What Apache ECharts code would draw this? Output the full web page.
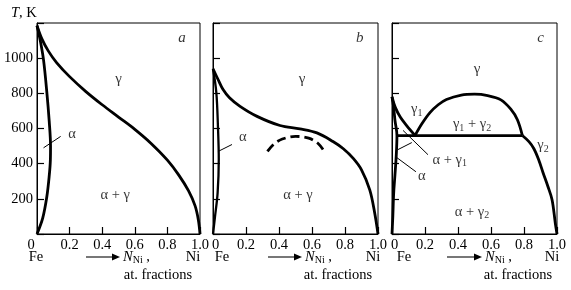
<!DOCTYPE html>
<html><head><meta charset="utf-8">
<script src="https://cdn.jsdelivr.net/npm/echarts@6/dist/echarts.min.js"></script>
<style>html,body{margin:0;padding:0;background:#fff}#c{width:571px;height:290px}</style>
</head><body><div id="c"></div>
<script>
// ---- data (x = N_Ni at. fraction, y = T in K) ----
const xTickLabels = ['0','0.2','0.4','0.6','0.8','1.0'];
const yTickLabels = ['200','400','600','800','1000'];

// panel a
const aGamma = [[0,1185],[0.03,1110],[0.07,1040],[0.12,975],[0.2,895],[0.3,810],[0.4,735],[0.5,665],[0.6,595],[0.7,515],[0.8,420],[0.87,335],[0.93,245],[0.97,160],[0.99,80],[1.0,0]];
const aAlpha = [[0,1185],[0.02,1100],[0.04,990],[0.06,810],[0.075,640],[0.083,500],[0.082,420],[0.075,330],[0.06,210],[0.035,90],[0,0]];
const aLeader = [[0.04,490],[0.145,555]];

// panel b
const bGamma = [[0,940],[0.03,880],[0.06,823],[0.1,775],[0.164,726],[0.267,669],[0.406,617],[0.527,598],[0.63,575],[0.727,526],[0.79,485],[0.85,430],[0.9,365],[0.95,251],[0.98,120],[1.0,0]];
const bAlpha = [[0,940],[0.02,806],[0.03,611],[0.035,423],[0.028,234],[0.012,97],[0,0]];
const bSpinodal = [[0.33,470],[0.37,512],[0.42,540],[0.5,555],[0.58,545],[0.64,512],[0.68,462]];
const bLeader = [[0.03,469],[0.115,509]];

// panel c
const cGamma1 = [[0,780],[0.02,720],[0.05,665],[0.09,615],[0.14,560]];
const cAlpha = [[0,780],[0.01,720],[0.018,646],[0.03,560],[0.026,450],[0.018,337],[0.01,230],[0.005,100],[0,0]];
const cTie = [[0.035,560],[0.79,560]];
const cDome = [[0.14,560],[0.18,625],[0.23,690],[0.28,735],[0.33,765],[0.42,790],[0.5,795],[0.58,787],[0.66,763],[0.72,710],[0.76,650],[0.79,560]];
const cGamma2 = [[0.79,560],[0.83,525],[0.86,485],[0.89,420],[0.915,350],[0.945,270],[0.97,195],[0.99,60],[1.0,0]];
const cLeader1 = [[0.067,589],[0.218,451]];
const cLeader2 = [[0.036,480],[0.12,520]];
const cLeader3 = [[0.03,434],[0.145,354]];

// region labels (x, T, text)
const aLabels = [[0.5,880,'{g|γ}'],[0.48,223,'α + γ'],[0.215,570,'α'],[0.89,1114,'{i|a}']];
const bLabels = [[0.54,880,'{g|γ}'],[0.515,223,'α + γ'],[0.18,549,'α'],[0.89,1114,'{i|b}']];
const cLabels = [[0.515,937,'{g|γ}'],[0.485,623,'γ{s|1} + γ{s|2}'],[0.15,708,'γ{s|1}'],[0.915,503,'γ{s|2}'],[0.35,420,'α + γ{s|1}'],[0.18,326,'α'],[0.485,126,'α + γ{s|2}'],[0.9,1114,'{i|c}']];

// ---- layout ----
const FONT = 'Liberation Serif';
const FS = 14.5;
const panels = [
  {left:37, width:163, zeroPad:[0,12,0,0], yLabels:true},
  {left:213, width:165, zeroPad:[0,0,0,5], yLabels:false},
  {left:392, width:165, zeroPad:[0,0,0,5], yLabels:false}
];
const TOP = 23, H = 211;

const grids = panels.map(p => ({left:p.left, top:TOP, width:p.width, height:H, show:true, borderColor:'#000', borderWidth:1, backgroundColor:'rgba(0,0,0,0)'}));
const xAxes = panels.map((p,i) => ({
  type:'value', gridIndex:i, min:0, max:1, interval:0.2,
  axisLine:{show:true, onZero:false, lineStyle:{color:'#000', width:1}},
  axisTick:{show:true, inside:true, length:7, lineStyle:{color:'#000', width:1.2}},
  splitLine:{show:false},
  axisLabel:{show:true, margin:4, color:'#000', fontFamily:FONT, fontSize:FS, showMinLabel:true, showMaxLabel:true,
    formatter: v => { const k = Math.round(v*5); return k===0 ? '{z|'+xTickLabels[0]+'}' : xTickLabels[k]; },
    rich:{z:{padding:p.zeroPad, fontFamily:FONT, fontSize:FS, color:'#000'}}}
}));
const yAxes = panels.map((p,i) => ({
  type:'value', gridIndex:i, min:0, max:1200, interval:200,
  axisLine:{show:true, onZero:false, lineStyle:{color:'#000', width:1}},
  axisTick:{show:true, inside:true, length:7, lineStyle:{color:'#000', width:1.2}},
  splitLine:{show:false},
  axisLabel:{show:p.yLabels, margin:4, color:'#000', fontFamily:FONT, fontSize:FS,
    formatter: v => { const k = Math.round(v/200)-1; return (k>=0 && k<yTickLabels.length) ? yTickLabels[k] : ''; }}
}));

function curve(i, data, extra) {
  return Object.assign({type:'line', xAxisIndex:i, yAxisIndex:i, data:data, symbol:'none', showSymbol:false,
    smooth:0.35, silent:true, z:3, lineStyle:{color:'#000', width:2.8}}, extra||{});
}
function leader(i, data) {
  return {type:'line', xAxisIndex:i, yAxisIndex:i, data:data, symbol:'none', smooth:false, silent:true, z:3,
    lineStyle:{color:'#000', width:1}};
}
const rich = {
  g:{fontFamily:FONT, fontSize:15, color:'#000'},
  s:{fontFamily:FONT, fontSize:10, color:'#000', padding:[7,0,0,0]},
  i:{fontFamily:FONT, fontSize:15, fontStyle:'italic', color:'#000'}
};
function labels(i, arr) {
  return {type:'scatter', xAxisIndex:i, yAxisIndex:i, symbolSize:1, silent:true, z:5,
    itemStyle:{color:'rgba(0,0,0,0)'},
    data: arr.map(d => ({value:[d[0], d[1]], name:d[2]})),
    label:{show:true, position:'inside', formatter:'{b}', color:'#000', fontFamily:FONT, fontSize:FS, rich:rich}};
}

const series = [
  curve(0, aGamma), curve(0, aAlpha), leader(0, aLeader), labels(0, aLabels),
  curve(1, bGamma), curve(1, bAlpha, {lineStyle:{color:'#000', width:2.3}}),
  curve(1, bSpinodal, {lineStyle:{color:'#000', width:2.8, type:[9,5]}}),
  leader(1, bLeader), labels(1, bLabels),
  curve(2, cGamma1), curve(2, cAlpha), curve(2, cTie, {smooth:false}), curve(2, cDome), curve(2, cGamma2),
  leader(2, cLeader1), leader(2, cLeader2), leader(2, cLeader3), labels(2, cLabels)
];

// annotations under each axis
const under = [
  {fe:36, arrowFrom:86, arrowTo:120, n:123, frac:158, ni:193},
  {fe:222, arrowFrom:268, arrowTo:302, n:305, frac:338, ni:373},
  {fe:404, arrowFrom:447, arrowTo:482, n:485, frac:518, ni:552}
];
const textRich = {
  n:{fontFamily:FONT, fontSize:FS, fontStyle:'italic', color:'#000'},
  r:{fontFamily:FONT, fontSize:FS, color:'#000'},
  s:{fontFamily:FONT, fontSize:10, color:'#000', padding:[7,0,0,0]}
};
const graphic = [
  {type:'text', left:11, top:6, style:{text:'{n|T}{r|, K}', rich:textRich}}
];
under.forEach(u => {
  graphic.push({type:'text', x:u.fe, y:257, style:{text:'Fe', font:FS+'px '+FONT, fill:'#000', textAlign:'center', textVerticalAlign:'middle'}});
  graphic.push({type:'text', x:u.ni, y:257, style:{text:'Ni', font:FS+'px '+FONT, fill:'#000', textAlign:'center', textVerticalAlign:'middle'}});
  graphic.push({type:'line', shape:{x1:u.arrowFrom, y1:257, x2:u.arrowTo-7, y2:257}, style:{stroke:'#777', lineWidth:2}});
  graphic.push({type:'polygon', shape:{points:[[u.arrowTo-8,253.5],[u.arrowTo,257],[u.arrowTo-8,260.5]]}, style:{fill:'#000'}});
  graphic.push({type:'text', x:u.n, y:257, style:{text:'{n|N}{s|Ni}{r| ,}', rich:textRich, textVerticalAlign:'middle', verticalAlign:'middle'}});
  graphic.push({type:'text', x:u.frac, y:275, style:{text:'at. fractions', font:FS+'px '+FONT, fill:'#000', textAlign:'center', textVerticalAlign:'middle'}});
});

const chart = echarts.init(document.getElementById('c'), null, {renderer:'canvas'});
chart.setOption({
  animation:false, backgroundColor:'#fff',
  grid:grids, xAxis:xAxes, yAxis:yAxes, series:series, graphic:graphic
});
</script>
</body></html>
